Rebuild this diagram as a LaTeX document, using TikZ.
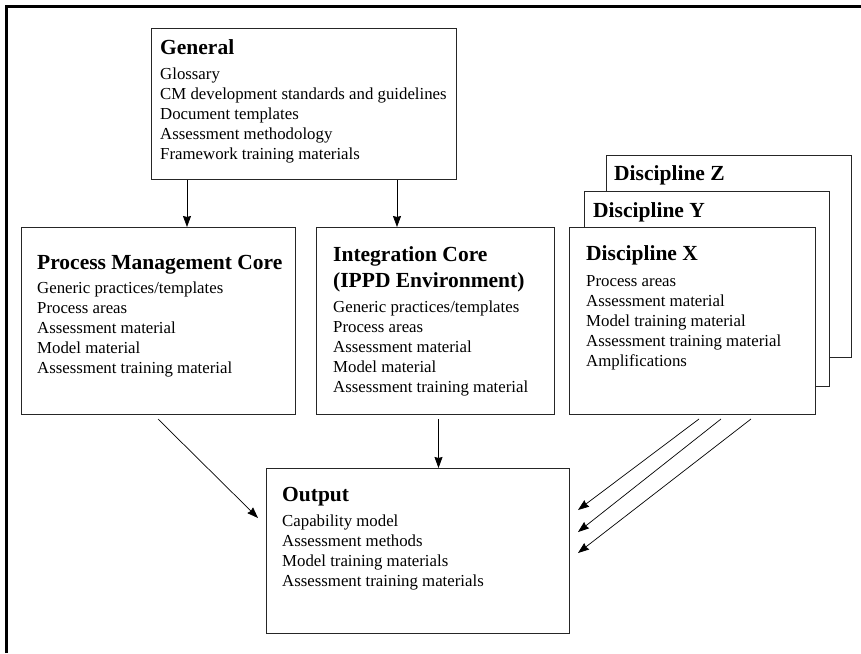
\documentclass[tikz,border=0pt]{standalone}
\usepackage{fontspec}
\setmainfont{Liberation Serif}
\usetikzlibrary{arrows.meta, positioning, calc}

\tikzset{
    box/.style={rectangle, draw=black!85, line width=1pt, fill=white, anchor=north west, inner sep=0pt},
    txt/.style={anchor=north west, align=left, inner sep=0pt, font=\fontsize{16.8}{20}\selectfont},
    arrow/.style={-{Stealth[length=11pt, width=8pt, inset=1pt]}, line width=0.7pt}
}
\newcommand{\heading}[1]{{\fontsize{21.5}{26}\selectfont\bfseries #1}}

\begin{document}
\begin{tikzpicture}[x=1pt, y=-1pt]
\useasboundingbox (0,0) rectangle (861,653);

% Frame (only top and left edges show)
\draw[line width=3pt] (6,653) -- (6,6) -- (861,6);

% General
\node[box, minimum width=305pt, minimum height=151pt] (general) at (151,28) {};
\node[txt] (generaltext) at ([shift={(9,11.6)}]general.north west)
    {\heading{General}\\[5pt] Glossary\\ CM development standards and guidelines\\ Document templates\\ Assessment methodology\\ Framework training materials};

% Cores
\node[box, minimum width=274pt, minimum height=187pt] (pmc) at (21,227) {};
\node[txt] (pmctext) at ([shift={(16,27.7)}]pmc.north west)
    {\heading{Process Management Core}\\[4pt] Generic practices/templates\\ Process areas\\ Assessment material\\ Model material\\ Assessment training material};

\node[box, minimum width=238pt, minimum height=187pt] (ic) at (316,227) {};
\node[txt] (ictext) at ([shift={(17,19.8)}]ic.north west)
    {\heading{Integration Core}\\[6pt] \heading{(IPPD Environment)}\\[5pt] Generic practices/templates\\ Process areas\\ Assessment material\\ Model material\\ Assessment training material};

% Disciplines (stacked)
\node[box, minimum width=245pt, minimum height=202pt] (discz) at (606,155) {};
\node[txt] (disczt) at ([shift={(8,10.5)}]discz.north west) {\heading{Discipline Z}};

\node[box, minimum width=245pt, minimum height=195pt] (discy) at (584,191) {};
\node[txt] (discyt) at ([shift={(9,11.5)}]discy.north west) {\heading{Discipline Y}};

\node[box, minimum width=246pt, minimum height=187pt] (discx) at (569,227) {};
\node[txt] (discxtext) at ([shift={(17,18.5)}]discx.north west)
    {\heading{Discipline X}\\[6pt] Process areas\\ Assessment material\\ Model training material\\ Assessment training material\\ Amplifications};

% Output
\node[box, minimum width=303pt, minimum height=165pt] (output) at (266,468) {};
\node[txt] (outputtext) at ([shift={(16,19.5)}]output.north west)
    {\heading{Output}\\[5pt] Capability model\\ Assessment methods\\ Model training materials\\ Assessment training materials};

% Arrows
\draw[arrow] ([xshift=36pt]general.south west) -- ([xshift=36pt]general.south west |- pmc.north);
\draw[arrow] ([xshift=246pt]general.south west) -- ([xshift=246pt]general.south west |- ic.north);
\draw[arrow] ([shift={(137,4)}]pmc.south west) -- ([shift={(-8,50)}]output.north west);
\draw[arrow] ([shift={(3,4)}]ic.south) -- ([xshift=3pt]ic.south |- output.north);
\draw[arrow] ([shift={(130,4)}]discx.south west) -- ([shift={(8,42)}]output.north east);
\draw[arrow] ([shift={(152,4)}]discx.south west) -- ([shift={(8,64)}]output.north east);
\draw[arrow] ([shift={(182,4)}]discx.south west) -- ([shift={(8,85)}]output.north east);

\end{tikzpicture}
\end{document}
